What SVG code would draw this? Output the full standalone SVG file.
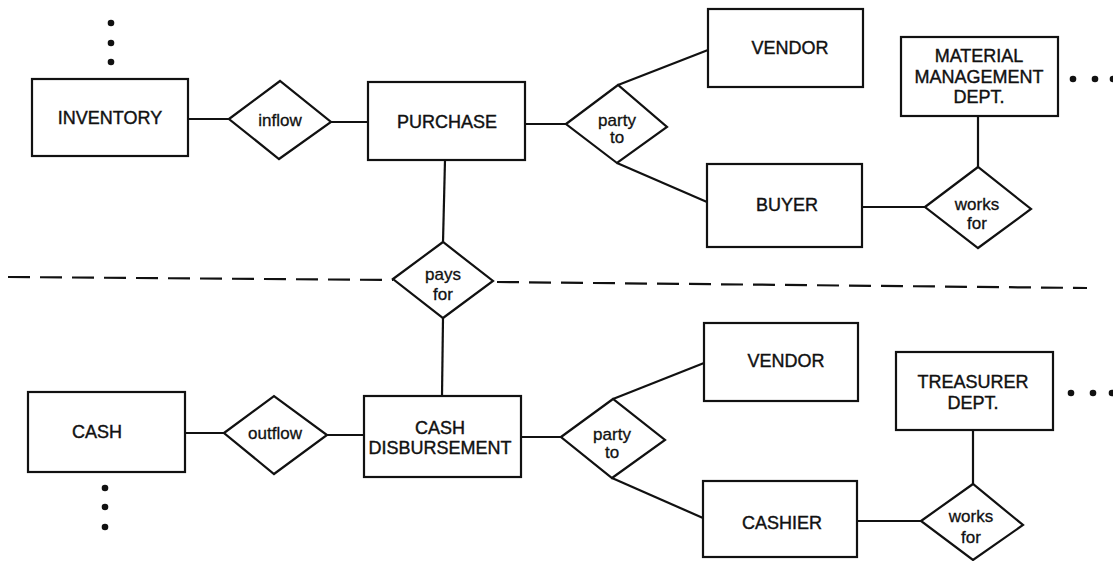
<svg xmlns="http://www.w3.org/2000/svg" width="1113" height="561" viewBox="0 0 1113 561">
<style>
.box{fill:#fff;stroke:#111;stroke-width:2.2}
.dia{fill:#fff;stroke:#111;stroke-width:2.2;stroke-linejoin:miter}
.ln{stroke:#111;stroke-width:2.2;fill:none}
.dash{stroke:#111;stroke-width:2.2;fill:none;stroke-dasharray:22 10}
.cap{font-family:"Liberation Sans",Arial,sans-serif;font-size:18px;fill:#111;stroke:#111;stroke-width:0.4;text-anchor:middle}
.lab{font-family:"Liberation Sans",Arial,sans-serif;font-size:17px;fill:#111;stroke:#111;stroke-width:0.3;text-anchor:middle}
.dot{fill:#111}
</style>
<rect width="1113" height="561" fill="#fff"/>
<g id="connectors">
<line class="ln" x1="188" y1="119" x2="229" y2="119"/>
<line class="ln" x1="331" y1="122" x2="368" y2="122"/>
<line class="ln" x1="525" y1="124" x2="566" y2="124"/>
<line class="ln" x1="618" y1="85" x2="708" y2="50"/>
<line class="ln" x1="617" y1="163" x2="707" y2="202"/>
<line class="ln" x1="862" y1="207" x2="925" y2="207"/>
<line class="ln" x1="978" y1="116" x2="978" y2="167"/>
<line class="ln" x1="445" y1="160" x2="443" y2="242"/>
<line class="ln" x1="443" y1="318" x2="442" y2="396"/>
<line class="ln" x1="185" y1="433" x2="224" y2="433"/>
<line class="ln" x1="327" y1="435" x2="364" y2="435"/>
<line class="ln" x1="521" y1="437" x2="561" y2="437"/>
<line class="ln" x1="613" y1="399" x2="704" y2="363"/>
<line class="ln" x1="612" y1="478" x2="703" y2="518"/>
<line class="ln" x1="857" y1="521" x2="921" y2="521"/>
<line class="ln" x1="973" y1="430" x2="973" y2="484"/>
<line class="dash" x1="8" y1="277" x2="393" y2="280"/>
<line class="dash" x1="497" y1="282" x2="1087" y2="288"/>
</g>
<g id="dots-top">
<circle class="dot" cx="111" cy="23" r="3.3"/>
<circle class="dot" cx="111" cy="43" r="3.3"/>
<circle class="dot" cx="111" cy="62" r="3.3"/>
</g>
<g id="inventory">
<rect class="box" x="32" y="79" width="156" height="77"/>
<text class="cap" x="110" y="124">INVENTORY</text>
</g>
<g id="inflow">
<polygon class="dia" points="229,119 280,81 331,122 279,159"/>
<text class="lab" x="280" y="126">inflow</text>
</g>
<g id="purchase">
<rect class="box" x="368" y="82" width="157" height="78"/>
<text class="cap" x="447" y="128">PURCHASE</text>
</g>
<g id="party-to-1">
<polygon class="dia" points="566,124 618,85 667,127 617,163"/>
<text class="lab" x="617" y="126">party</text>
<text class="lab" x="617" y="143">to</text>
</g>
<g id="vendor-1">
<rect class="box" x="708" y="9" width="155" height="78"/>
<text class="cap" x="790" y="54">VENDOR</text>
</g>
<g id="buyer">
<rect class="box" x="707" y="164" width="155" height="83"/>
<text class="cap" x="787" y="211">BUYER</text>
</g>
<g id="material-management-dept">
<rect class="box" x="901" y="37" width="157" height="79"/>
<text class="cap" x="979" y="62">MATERIAL</text>
<text class="cap" x="979" y="83">MANAGEMENT</text>
<text class="cap" x="979" y="103">DEPT.</text>
</g>
<g id="dots-right-top">
<circle class="dot" cx="1073" cy="79" r="3.3"/>
<circle class="dot" cx="1095" cy="79" r="3.3"/>
<circle class="dot" cx="1113" cy="79" r="3.3"/>
</g>
<g id="works-for-1">
<polygon class="dia" points="925,207 978,167 1031,209 978,248"/>
<text class="lab" x="977" y="210">works</text>
<text class="lab" x="977" y="229">for</text>
</g>
<g id="pays-for">
<polygon class="dia" points="393,279 443,242 493,281 443,318"/>
<text class="lab" x="443" y="280">pays</text>
<text class="lab" x="443" y="300">for</text>
</g>
<g id="cash">
<rect class="box" x="28" y="392" width="157" height="80"/>
<text class="cap" x="97" y="438">CASH</text>
</g>
<g id="dots-bottom">
<circle class="dot" cx="105" cy="488" r="3.3"/>
<circle class="dot" cx="105" cy="507" r="3.3"/>
<circle class="dot" cx="105" cy="527" r="3.3"/>
</g>
<g id="outflow">
<polygon class="dia" points="224,433 274,396 327,435 274,474"/>
<text class="lab" x="275" y="439">outflow</text>
</g>
<g id="cash-disbursement">
<rect class="box" x="364" y="396" width="157" height="81"/>
<text class="cap" x="440" y="434">CASH</text>
<text class="cap" x="440" y="454">DISBURSEMENT</text>
</g>
<g id="party-to-2">
<polygon class="dia" points="561,437 613,399 665,440 612,478"/>
<text class="lab" x="612" y="440">party</text>
<text class="lab" x="612" y="458">to</text>
</g>
<g id="vendor-2">
<rect class="box" x="704" y="323" width="154" height="78"/>
<text class="cap" x="786" y="367">VENDOR</text>
</g>
<g id="cashier">
<rect class="box" x="703" y="481" width="154" height="76"/>
<text class="cap" x="782" y="529">CASHIER</text>
</g>
<g id="treasurer-dept">
<rect class="box" x="896" y="352" width="157" height="78"/>
<text class="cap" x="973" y="388">TREASURER</text>
<text class="cap" x="973" y="409">DEPT.</text>
</g>
<g id="dots-right-bottom">
<circle class="dot" cx="1071" cy="393" r="3.3"/>
<circle class="dot" cx="1093" cy="393" r="3.3"/>
<circle class="dot" cx="1112" cy="393" r="3.3"/>
</g>
<g id="works-for-2">
<polygon class="dia" points="921,521 973,484 1023,525 973,560"/>
<text class="lab" x="971" y="522">works</text>
<text class="lab" x="971" y="543">for</text>
</g>
</svg>
